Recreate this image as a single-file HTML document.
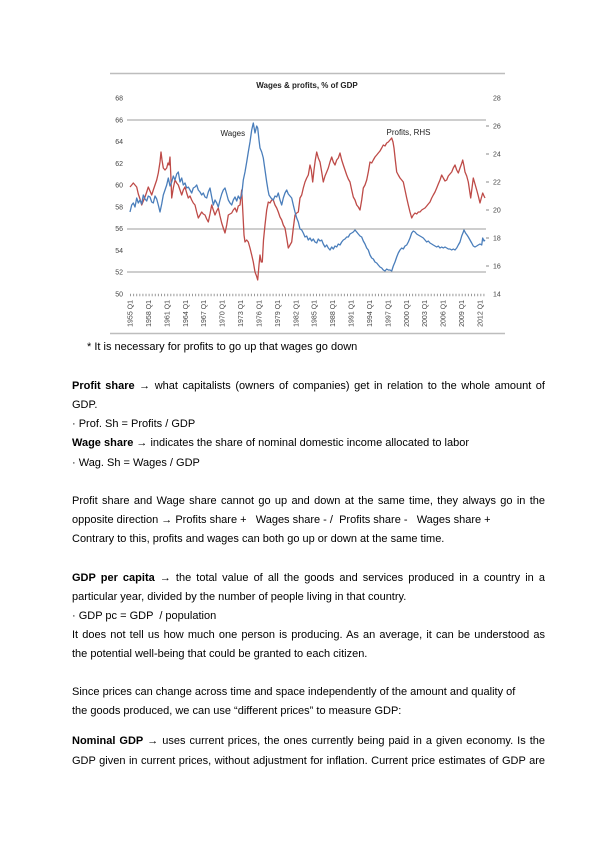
<!DOCTYPE html>
<html>
<head>
<meta charset="utf-8">
<style>
html,body{margin:0;padding:0;background:#fff;}
body{width:600px;height:848px;position:relative;overflow:hidden;font-family:"Liberation Sans",Arial,sans-serif;color:#000;}
.l{position:absolute;left:72px;height:19.2px;line-height:19.2px;font-size:11px;white-space:nowrap;}
.j{width:473px;text-align:justify;text-align-last:justify;white-space:normal;}
.p{white-space:pre;}
b{font-weight:bold;}
svg{position:absolute;left:0;top:0;}
</style>
</head>
<body>
<svg width="600" height="350" viewBox="0 0 600 350" xmlns="http://www.w3.org/2000/svg" font-family="Liberation Sans, Arial, sans-serif">
  <line x1="110" y1="73.5" x2="505" y2="73.5" stroke="#bdbdbd" stroke-width="1.5"/>
  <line x1="110" y1="333.5" x2="505" y2="333.5" stroke="#bdbdbd" stroke-width="1.5"/>
  <text x="307" y="88" font-size="8" font-weight="bold" text-anchor="middle" fill="#222">Wages &amp; profits, % of GDP</text>
  <!-- gridlines -->
  <line x1="127" y1="120" x2="486" y2="120" stroke="#9c9c9c" stroke-width="1"/>
  <line x1="127" y1="229" x2="486" y2="229" stroke="#9c9c9c" stroke-width="1"/>
  <line x1="127" y1="272" x2="486" y2="272" stroke="#9c9c9c" stroke-width="1"/>
  <!-- x ticks -->
  <line x1="130" y1="295" x2="485" y2="295" stroke="#999" stroke-width="2.5" stroke-dasharray="1 2.1"/>
  <!-- left axis labels -->
  <g font-size="7" fill="#444" text-anchor="end">
    <text x="123" y="100.5">68</text>
    <text x="123" y="122.5">66</text>
    <text x="123" y="144">64</text>
    <text x="123" y="166">62</text>
    <text x="123" y="187.5">60</text>
    <text x="123" y="209.5">58</text>
    <text x="123" y="231">56</text>
    <text x="123" y="253">54</text>
    <text x="123" y="274.5">52</text>
    <text x="123" y="296.5">50</text>
  </g>
  <!-- right axis labels -->
  <g font-size="7" fill="#444">
    <text x="493" y="100.5">28</text>
    <text x="493" y="128.5">26</text>
    <text x="493" y="156.5">24</text>
    <text x="493" y="184.5">22</text>
    <text x="493" y="212.5">20</text>
    <text x="493" y="240.5">18</text>
    <text x="493" y="268.5">16</text>
    <text x="493" y="296.5">14</text>
  </g>
  <g stroke="#888" stroke-width="1">
    <line x1="486" y1="126" x2="489" y2="126"/>
    <line x1="486" y1="154" x2="489" y2="154"/>
    <line x1="486" y1="182" x2="489" y2="182"/>
    <line x1="486" y1="210" x2="489" y2="210"/>
    <line x1="486" y1="238" x2="489" y2="238"/>
    <line x1="486" y1="266" x2="489" y2="266"/>
  </g>
  <!-- x labels -->
  <g font-size="7" fill="#444" text-anchor="end">
    <text transform="translate(132.5,300) rotate(-90)">1955 Q1</text>
    <text transform="translate(150.9,300) rotate(-90)">1958 Q1</text>
    <text transform="translate(169.3,300) rotate(-90)">1961 Q1</text>
    <text transform="translate(187.8,300) rotate(-90)">1964 Q1</text>
    <text transform="translate(206.2,300) rotate(-90)">1967 Q1</text>
    <text transform="translate(224.6,300) rotate(-90)">1970 Q1</text>
    <text transform="translate(243.0,300) rotate(-90)">1973 Q1</text>
    <text transform="translate(261.4,300) rotate(-90)">1976 Q1</text>
    <text transform="translate(279.9,300) rotate(-90)">1979 Q1</text>
    <text transform="translate(298.3,300) rotate(-90)">1982 Q1</text>
    <text transform="translate(316.7,300) rotate(-90)">1985 Q1</text>
    <text transform="translate(335.1,300) rotate(-90)">1988 Q1</text>
    <text transform="translate(353.5,300) rotate(-90)">1991 Q1</text>
    <text transform="translate(372.0,300) rotate(-90)">1994 Q1</text>
    <text transform="translate(390.4,300) rotate(-90)">1997 Q1</text>
    <text transform="translate(408.8,300) rotate(-90)">2000 Q1</text>
    <text transform="translate(427.2,300) rotate(-90)">2003 Q1</text>
    <text transform="translate(445.6,300) rotate(-90)">2006 Q1</text>
    <text transform="translate(464.1,300) rotate(-90)">2009 Q1</text>
    <text transform="translate(482.5,300) rotate(-90)">2012 Q1</text>
  </g>
  <!-- series -->
  <polyline fill="none" stroke="#be4b48" stroke-width="1.3" stroke-linejoin="round" points="130,187 131.7,185 133.3,183 135,185 136.7,187 138.3,194 140,199 141.7,205 143.3,201 145,197 146.7,192 148.3,187 150,191 151.7,195 153.3,190 155,185 156.7,180 158.3,173 160,162 161,152 162,160 163.3,168 165,170 166.7,168 168,163 169,165 170,157 170.8,175 171.7,198 173.3,188 175,180 176.7,183 178.3,185 180,190 181.7,195 183.3,190 185,187 186.7,193 188.3,198 190,196 191.7,200 193.3,203 195,205 196.7,212 198.3,218 200,215 201.7,212 203.3,214 205,215 206.7,219 208.3,222 210,214 211.7,205 213.3,210 215,215 216.7,211 218.3,208 220,216 221.7,223 223.3,228 225,233 226.7,225 228.3,215 230,214 231.7,213 233.3,210 235,208 236.7,212 238.3,206 240,205 241.7,190 243,215 244,235 245,242 246.7,240 248.3,242 250,248 251.7,255 253.3,262 255,272 256.5,276 257.7,280 259,265 260,255 261.2,262 262.3,262 263.5,240 265,225 266.7,210 268.3,202 270,203 271.7,200 273.3,200 275,205 276.7,208 278.3,212 280,217 281.7,220 283.3,225 285,228 286.7,238 288.3,248 290,245 291.7,242 293.3,228 295,215 296.7,213 298.3,212 300,198 301.7,195 303.3,188 305,182 306.7,178 308.3,175 310,165 311.3,170 312.7,182 314,170 315.3,160 316.7,152 318.3,158 320,162 321.7,172 323.3,182 325,176 326.7,172 328.3,168 330,162 331.7,157 333.3,162 335,165 336.7,160 338.3,158 340,153 341.7,160 343.3,165 345,170 346.7,175 348.3,179 350,182 351.7,190 353.3,197 355,200 356.7,205 358.3,207 360,210 361.7,200 363.3,188 365,185 366.7,180 368.3,172 370,162 371.7,163 373.3,160 375,157 376.7,155 378.3,153 380,151 381.7,148 383.3,145 385,146 386.7,143 388.3,142 390,140 391.7,138 393,142 394,148 395.3,160 396.7,172 398.3,175 400,178 401.7,180 403.3,182 405,190 406.7,198 408.3,205 410,212 411.7,218 413.3,215 415,213 416.7,214 418.3,212 420,212 421.7,210 423.3,209 425,208 426.7,206 428.3,204 430,202 431.7,198 433.3,195 435,192 436.7,188 438.3,184 440,180 441.7,175 443.3,178 445,181 446.7,180 448.3,176 450,174 451.7,172 453.3,168 455,165 456.7,170 458.3,173 460,168 461.5,164 462.7,160 464,166 465,172 466.7,176 468.3,182 469.5,190 470.7,198 472,188 473.3,178 475,184 476.7,190 478.3,196 480,203 481.3,198 482.7,193 484,196 485,198"/>
  <polyline fill="none" stroke="#4a7ebb" stroke-width="1.3" stroke-linejoin="round" points="130,212 131.7,205 133.3,203 135,207 136.7,198 138.3,203 140,200 141.7,204 143.3,195 145,199 146.7,201 148.3,196 150,197 151.7,202 153.3,203 155,196 156.7,199 158.3,205 160,212 161.7,204 163.3,195 165,190 166.7,185 168.3,178 170,186 171.7,182 173.3,176 175,180 176.7,174 178.3,172 180,182 181.7,178 183.3,185 185,183 186.7,188 188.3,187 190,190 191.7,193 193.3,188 195,187 196.7,185 198.3,190 200,192 201.7,195 203.3,193 205,197 206.7,198 208.3,192 210,188 211.7,197 213.3,205 215,200 216.7,203 218.3,207 220,200 221.7,194 223.3,190 225,188 226.7,194 228.3,200 230,203 231.7,205 233.3,200 235,197 236.7,201 238.3,196 240,199 241.7,195 243.3,180 245,172 246.7,162 248.3,152 250,142 251.7,130 253.3,123 255,133 256.7,126 257.7,128 259,140 260,148 261.7,152 263.3,158 265,170 266.7,182 268,190 269,195 271,198 273.3,200 275,196 276.7,197 278.3,193 280,200 281.7,205 283.3,198 285,193 286.7,190 288.3,194 290,196 291.7,198 293.3,205 295,212 296.7,218 298.3,222 300,229 301.7,230 303.3,233 305,237 306.7,236 308.3,240 310,238 311.7,241 313.3,239 315,242 316.7,243 318.3,239 320,241 321.7,240 323.3,244 325,247 326.7,245 328.3,248 330,250 331.7,247 333.3,249 335,246 336.7,247 338.3,244 340,245 341.7,242 343.3,240 345,239 346.7,237 348.3,237 350,234 351.7,233 353.3,232 355,230 356.7,232 358.3,234 360,236 361.7,237 363.3,241 365,244 366.7,248 368.3,250 370,255 371.7,258 373.3,259 375,262 376.7,263 378.3,265 380,267 381.7,268 383.3,270 385,271 386.7,269 388.3,270 390,270 391.7,271 393.3,266 395,262 396.7,257 398.3,253 400,250 401.7,248 403.3,249 405,246 406.7,245 408.3,242 410,238 411.7,233 413.3,231 415,232 416.7,234 418.3,235 420,236 421.7,237 423.3,238 425,240 426.7,242 428.3,241 430,243 431.7,244 433.3,245 435,246 436.7,247 438.3,246 440,248 441.7,247 443.3,248 445,247 446.7,248 448.3,249 450,249 451.7,250 453.3,249 455,250 456.7,248 458.3,245 460,242 461.7,236 463.3,232 464,230 465.5,233 467,235 468.3,237 470,240 471.7,243 473.3,246 475,247 476.7,246 478.3,245 480,244 481.7,245 482.7,238 484,241 485,240"/>
  <text x="220.5" y="136" font-size="8" fill="#222">Wages</text>
  <text x="386.5" y="135" font-size="8" fill="#222">Profits, RHS</text>
</svg>

<div class="l" style="left:87px;top:338.4px;">* It is necessary for profits to go up that wages go down</div>

<div class="l j" style="top:377.1px;"><b>Profit share</b> → what capitalists (owners of companies) get in relation to the whole amount of</div>
<div class="l" style="top:396.4px;">GDP.</div>
<div class="l" style="top:415.4px;">· Prof. Sh = Profits / GDP</div>
<div class="l" style="top:434.4px;"><b>Wage share</b> → indicates the share of nominal domestic income allocated to labor</div>
<div class="l" style="top:453.7px;">· Wag. Sh = Wages / GDP</div>

<div class="l j" style="top:492.1px;">Profit share and Wage share cannot go up and down at the same time, they always go in the</div>
<div class="l p" style="top:511.1px;">opposite direction → Profits share +   Wages share - /  Profits share -   Wages share +</div>
<div class="l" style="top:530.4px;">Contrary to this, profits and wages can both go up or down at the same time.</div>

<div class="l j" style="top:568.8px;"><b>GDP per capita</b> → the total value of all the goods and services produced in a country in a</div>
<div class="l" style="top:588px;">particular year, divided by the number of people living in that country.</div>
<div class="l p" style="top:607.2px;">· GDP pc = GDP  / population</div>
<div class="l j" style="top:626.4px;">It does not tell us how much one person is producing. As an average, it can be understood as</div>
<div class="l" style="top:645.4px;">the potential well-being that could be granted to each citizen.</div>

<div class="l" style="top:682.7px;">Since prices can change across time and space independently of the amount and quality of</div>
<div class="l" style="top:702.1px;">the goods produced, we can use “different prices” to measure GDP:</div>

<div class="l j" style="top:732.4px;"><b>Nominal GDP</b> → uses current prices, the ones currently being paid in a given economy. Is the</div>
<div class="l j" style="top:752.4px;">GDP given in current prices, without adjustment for inflation. Current price estimates of GDP are</div>
</body>
</html>
